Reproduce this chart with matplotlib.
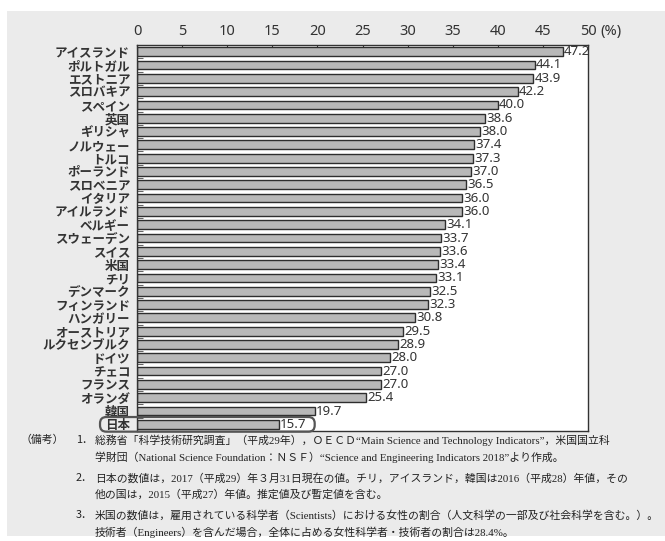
import matplotlib
matplotlib.use("Agg")
import matplotlib.pyplot as plt
from matplotlib.patches import Rectangle, FancyBboxPatch

countries = ["アイスランド", "ポルトガル", "エストニア", "スロバキア", "スペイン", "英国",
             "ギリシャ", "ノルウェー", "トルコ", "ポーランド", "スロベニア", "イタリア",
             "アイルランド", "ベルギー", "スウェーデン", "スイス", "米国", "チリ",
             "デンマーク", "フィンランド", "ハンガリー", "オーストリア", "ルクセンブルク",
             "ドイツ", "チェコ", "フランス", "オランダ", "韓国", "日本"]
values = [47.2, 44.1, 43.9, 42.2, 40.0, 38.6, 38.0, 37.4, 37.3, 37.0, 36.5, 36.0,
          36.0, 34.1, 33.7, 33.6, 33.4, 33.1, 32.5, 32.3, 30.8, 29.5, 28.9, 28.0,
          27.0, 27.0, 25.4, 19.7, 15.7]
xticks = [0, 5, 10, 15, 20, 25, 30, 35, 40, 45, 50]

notes = [
    ("（備考）", "1．", "総務省「科学技術研究調査」（平成29年），ＯＥＣＤ“Main Science and Technology Indicators”，米国国立科"),
    ("", "", "学財団（National Science Foundation：ＮＳＦ）“Science and Engineering Indicators 2018”より作成。"),
    ("", "2．", "日本の数値は，2017（平成29）年３月31日現在の値。チリ，アイスランド，韓国は2016（平成28）年値，その"),
    ("", "", "他の国は，2015（平成27）年値。推定値及び暫定値を含む。"),
    ("", "3．", "米国の数値は，雇用されている科学者（Scientists）における女性の割合（人文科学の一部及び社会科学を含む。）。"),
    ("", "", "技術者（Engineers）を含んだ場合，全体に占める女性科学者・技術者の割合は28.4%。"),
]
note_y = [440, 457, 478, 495, 515, 532]

JP = ["Noto Sans CJK JP", "DejaVu Sans"]
NUM = ["Noto Sans", "Noto Sans CJK JP"]
NOTE = ["Liberation Serif", "Noto Sans CJK JP"]

W, H = 665, 541
fig = plt.figure(figsize=(W / 100, H / 100), dpi=100)
fig.patch.set_facecolor("white")
# grey panel behind everything
fig.patches.append(Rectangle((7 / W, 1 - 536 / H), 1, (536 - 11) / H,
                             transform=fig.transFigure, facecolor="#ebebeb",
                             edgecolor="none", zorder=-10))

ax = fig.add_axes([137 / W, 1 - 431 / H, (588 - 137) / W, (431 - 45) / H])
ax.set_facecolor("white")

y = list(range(len(countries)))
ax.barh(y, values, height=0.66, color="#b8b8b8", edgecolor="#2e2e2e", linewidth=1.0, zorder=2)
for yi, v in zip(y, values):
    ax.text(v + 0.15, yi, f"{v:.1f}", va="center", ha="left", fontsize=9.5,
            family=NUM, color="#333333", zorder=3)

ax.set_xlim(0, 50)
ax.set_ylim(len(countries) - 0.5, -0.5)
ax.xaxis.tick_top()
ax.set_xticks(xticks)
ax.set_xticklabels([str(t) for t in xticks], family=NUM, fontsize=10.5, color="#333333")
ax.tick_params(axis="x", direction="in", length=3, width=0.8, color="#333333", pad=4)
ax.set_yticks(y)
ax.set_yticklabels(countries, family=JP, fontsize=9, fontweight="bold", color="#333333")
ax.tick_params(axis="y", which="major", length=0, pad=5)
ax.set_yticks([i + 0.5 for i in y[:-1]], minor=True)
ax.tick_params(axis="y", which="minor", direction="in", length=4, width=0.8, color="#666666")
for s in ax.spines.values():
    s.set_color("#333333")
    s.set_linewidth(1.0)

# unit next to the last tick label (top spine is y=-0.5, ylim inverted)
ax.annotate("(%)", xy=(50, -0.5), xycoords="data", xytext=(9, 4),
            textcoords="offset points", ha="left", va="bottom", fontsize=10.5,
            family=NUM, color="#333333", annotation_clip=False)

# highlight box around Japan
jp = len(countries) - 1
box = FancyBboxPatch((-4.1, jp - 0.55), values[jp] + 8.1, 1.1,
                     boxstyle="round,pad=0,rounding_size=0.7", mutation_aspect=0.68,
                     facecolor="none", edgecolor="#555555", linewidth=1.6,
                     clip_on=False, zorder=4)
ax.add_patch(box)

for (head, num, body), yy in zip(notes, note_y):
    fy = 1 - yy / H
    if head:
        fig.text(20 / W, fy, head, family=JP, fontsize=7.8, va="center", color="#222222")
    if num:
        fig.text(76 / W, fy, num, family=JP, fontsize=7.8, va="center", color="#222222")
    fig.text(95 / W, fy, body, family=NOTE, fontsize=7.8, va="center", color="#222222")

fig.savefig("out.png", dpi=100, facecolor=fig.get_facecolor())
